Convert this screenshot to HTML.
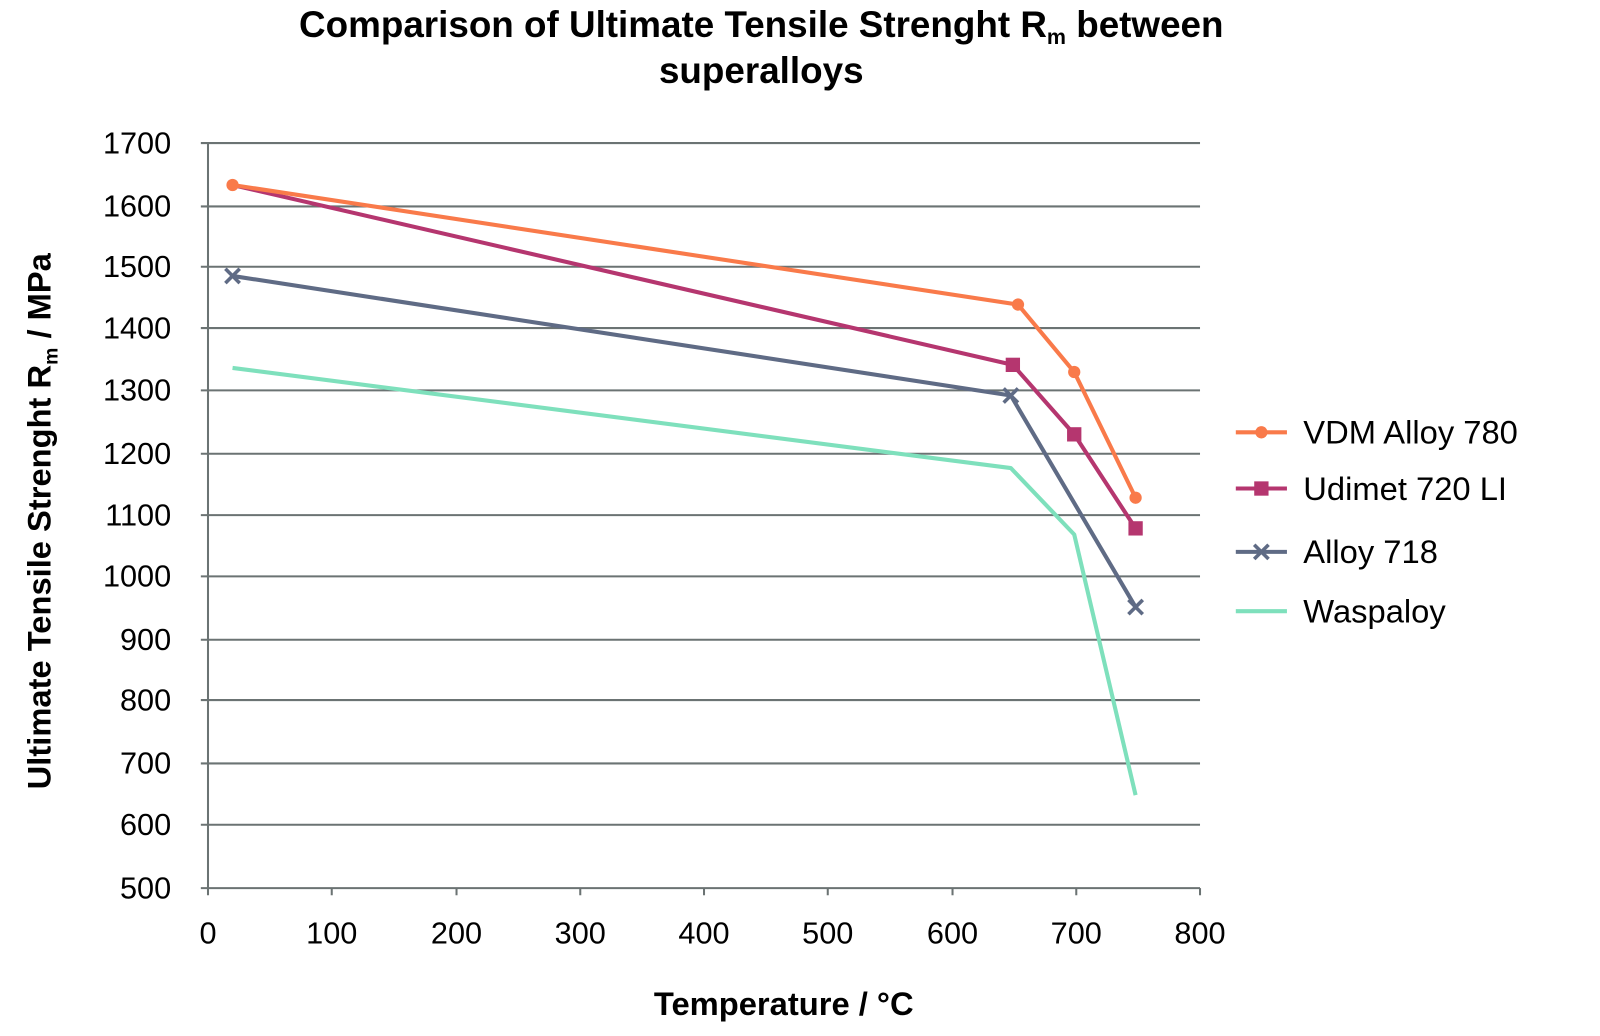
<!DOCTYPE html>
<html><head><meta charset="utf-8"><style>
html,body{margin:0;padding:0;background:#fff;}
svg text{font-family:"Liberation Sans",sans-serif;fill:#000;}
</style></head><body>
<svg width="1600" height="1031" viewBox="0 0 1600 1031" xmlns="http://www.w3.org/2000/svg">
<g transform="translate(-3.7,0) scale(1.0227,1.022)">
<text x="748" y="36" font-size="36" font-weight="bold" text-anchor="middle">Comparison of Ultimate Tensile Strenght R<tspan font-size="21" dy="7">m</tspan><tspan dy="-7"> between</tspan></text>
<text x="748" y="81" font-size="36" font-weight="bold" text-anchor="middle">superalloys</text>
<g stroke="#6b7373" stroke-width="2">
<line x1="200" y1="140" x2="1177" y2="140"/>
<line x1="200" y1="202" x2="1177" y2="202"/>
<line x1="200" y1="261" x2="1177" y2="261"/>
<line x1="200" y1="321" x2="1177" y2="321"/>
<line x1="200" y1="382" x2="1177" y2="382"/>
<line x1="200" y1="444" x2="1177" y2="444"/>
<line x1="200" y1="504" x2="1177" y2="504"/>
<line x1="200" y1="564" x2="1177" y2="564"/>
<line x1="200" y1="626" x2="1177" y2="626"/>
<line x1="200" y1="685" x2="1177" y2="685"/>
<line x1="200" y1="747" x2="1177" y2="747"/>
<line x1="200" y1="807" x2="1177" y2="807"/>
<line x1="200" y1="869" x2="1177" y2="869"/>
<line x1="207" y1="140" x2="207" y2="876"/>
<line x1="328" y1="869" x2="328" y2="876"/>
<line x1="450" y1="869" x2="450" y2="876"/>
<line x1="571" y1="869" x2="571" y2="876"/>
<line x1="692" y1="869" x2="692" y2="876"/>
<line x1="813" y1="869" x2="813" y2="876"/>
<line x1="935" y1="869" x2="935" y2="876"/>
<line x1="1056" y1="869" x2="1056" y2="876"/>
<line x1="1177" y1="869" x2="1177" y2="876"/>
</g>
<g font-size="30" text-anchor="end">
<text x="171" y="150">1700</text><text x="171" y="212">1600</text><text x="171" y="271">1500</text>
<text x="171" y="331">1400</text><text x="171" y="392">1300</text><text x="171" y="454">1200</text>
<text x="171" y="514">1100</text><text x="171" y="574">1000</text><text x="171" y="636">900</text>
<text x="171" y="695">800</text><text x="171" y="757">700</text><text x="171" y="817">600</text>
<text x="171" y="879">500</text>
</g>
<g font-size="30" text-anchor="middle">
<text x="207" y="923">0</text><text x="328" y="923">100</text><text x="450" y="923">200</text>
<text x="571" y="923">300</text><text x="692" y="923">400</text><text x="813" y="923">500</text>
<text x="935" y="923">600</text><text x="1056" y="923">700</text><text x="1177" y="923">800</text>
</g>
<text x="770" y="993" font-size="32" font-weight="bold" text-anchor="middle">Temperature / °C</text>
<text transform="translate(53,510) rotate(-90)" font-size="32" font-weight="bold" text-anchor="middle">Ultimate Tensile Strenght R<tspan font-size="19" dy="7">m</tspan><tspan dy="-7"> / MPa</tspan></text>
<g fill="none" stroke-width="4" stroke-linejoin="round">
<polyline stroke="#7ee0bc" points="231,360 992,458 1054,523 1114,778"/>
<polyline stroke="#5f6b85" points="231,270 992,387 1114,594"/>
<polyline stroke="#b5366f" points="231,181 994,357 1054,425 1114,517"/>
<polyline stroke="#f97a4a" points="231,181 999,298 1054,364 1114,487"/>
</g>
<g stroke="#5f6b85" stroke-width="3.5">
<path d="M224,263 l14,14 M238,263 l-14,14"/><path d="M985,380 l14,14 M999,380 l-14,14"/><path d="M1107,587 l14,14 M1121,587 l-14,14"/>
</g>
<g fill="#b5366f">
<rect x="987" y="350" width="14" height="14"/><rect x="1047" y="418" width="14" height="14"/><rect x="1107" y="510" width="14" height="14"/>
</g>
<g fill="#f97a4a">
<circle cx="231" cy="181" r="6"/><circle cx="999" cy="298" r="6"/><circle cx="1054" cy="364" r="6"/><circle cx="1114" cy="487" r="6"/>
</g>
<g stroke-width="4">
<line x1="1212" y1="423" x2="1262" y2="423" stroke="#f97a4a"/><circle cx="1237" cy="423" r="6" fill="#f97a4a"/>
<line x1="1212" y1="478" x2="1262" y2="478" stroke="#b5366f"/><rect x="1230" y="471" width="14" height="14" fill="#b5366f"/>
<line x1="1212" y1="540" x2="1262" y2="540" stroke="#5f6b85"/><path d="M1230,533 l14,14 M1244,533 l-14,14" stroke="#5f6b85" stroke-width="3.5"/>
<line x1="1212" y1="598" x2="1262" y2="598" stroke="#7ee0bc"/>
</g>
<g font-size="32">
<text x="1278" y="434">VDM Alloy 780</text>
<text x="1278" y="489">Udimet 720 LI</text>
<text x="1278" y="551">Alloy 718</text>
<text x="1278" y="609">Waspaloy</text>
</g>
</g>
</svg>
</body></html>
